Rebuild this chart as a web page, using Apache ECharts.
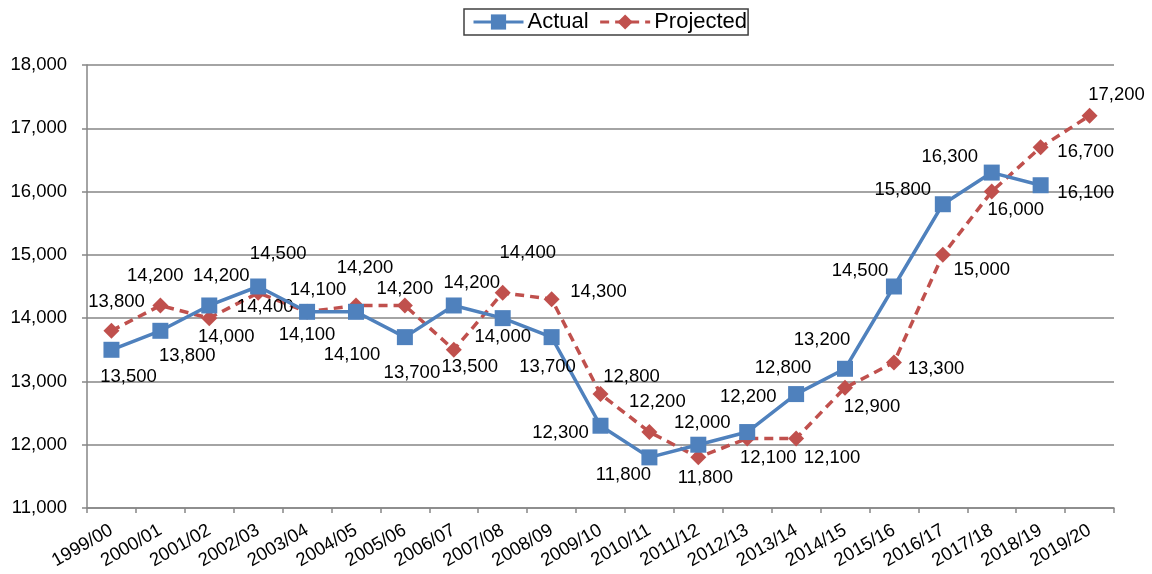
<!DOCTYPE html>
<html>
<head>
<meta charset="utf-8">
<script src="https://cdn.jsdelivr.net/npm/echarts@6/dist/echarts.min.js"></script>
<style>
  html, body { margin: 0; padding: 0; background: #ffffff; }
  #chart { width: 1152px; height: 574px; }
</style>
</head>
<body>
<div id="chart"></div>
<script>
// Financial years on the category axis
const years = ['1999/00', '2000/01', '2001/02', '2002/03', '2003/04', '2004/05', '2005/06',
  '2006/07', '2007/08', '2008/09', '2009/10', '2010/11', '2011/12', '2012/13', '2013/14',
  '2014/15', '2015/16', '2016/17', '2017/18', '2018/19', '2019/20'];

// Recorded values (no figure yet for the final year)
const actual = [13500, 13800, 14200, 14500, 14100, 14100, 13700, 14200, 14000, 13700,
  12300, 11800, 12000, 12200, 12800, 13200, 14500, 15800, 16300, 16100];

// Forecast values
const projected = [13800, 14200, 14000, 14400, 14100, 14200, 14200, 13500, 14400, 14300,
  12800, 12200, 11800, 12100, 12100, 12900, 13300, 15000, 16000, 16700, 17200];

// Value axis range and step
const yMin = 11000, yMax = 18000, yStep = 1000;

// Label nudges (px, from each point) so the value labels do not collide
const actualLabelShift = [[17, 27], [27, 25], [12, -30], [20, -33], [11, -22], [-4, 43], [7, 36],
  [18, -23], [0, 19], [-4, 30], [-40, 7], [-26, 18], [4, -22], [1, -35], [-13, -26], [-23, -29],
  [-34, -16], [-40, -14], [-42, -16], [45, 8]];
const projectedLabelShift = [[5, -29], [-5, -30], [17, 19], [7, 14], [0, 23], [9, -38], [0, -17],
  [16, 17], [25, -40], [47, -7], [31, -17], [8, -30], [7, 21], [21, 20], [36, 20], [27, 19],
  [42, 6], [39, 15], [24, 18], [45, 5], [27, -21]];

const FONT = '"Liberation Sans", Arial, sans-serif';
const fmt = v => v.toLocaleString('en-US');

function withLabels(values, shifts) {
  return values.map((v, i) => ({
    value: v,
    label: { offset: shifts[i] }
  }));
}

const chart = echarts.init(document.getElementById('chart'), null, { renderer: 'canvas' });

const valueLabel = {
  show: true, position: 'inside', fontSize: 18.5, color: '#000000', fontFamily: FONT,
  formatter: p => fmt(p.value)
};

chart.setOption({
  backgroundColor: '#ffffff',
  animation: false,
  textStyle: { fontFamily: FONT },
  legend: {
    left: 464,
    top: 9,
    padding: [2, 1, 2, 8],
    itemGap: 10,
    itemWidth: 50,
    itemHeight: 19,
    borderColor: '#404040',
    borderWidth: 1.5,
    lineStyle: { width: 3 },
    textStyle: { fontSize: 22, color: '#000000', fontFamily: FONT, padding: [0, 0, 0, -1] },
    data: ['Actual', 'Projected']
  },
  grid: { left: 87, right: 38, top: 65, bottom: 66, containLabel: false },
  xAxis: {
    type: 'category',
    data: years,
    boundaryGap: true,
    axisLine: { lineStyle: { color: '#868686', width: 1.5 } },
    axisTick: { show: true, length: 5, alignWithLabel: false, lineStyle: { color: '#868686', width: 1.5 } },
    axisLabel: { rotate: 30, fontSize: 18.5, color: '#000000', fontFamily: FONT, margin: 21, interval: 0 }
  },
  yAxis: {
    type: 'value',
    min: yMin,
    max: yMax,
    interval: yStep,
    axisLine: { show: true, lineStyle: { color: '#868686', width: 1.5 } },
    axisTick: { show: true, length: 5, lineStyle: { color: '#868686', width: 1.5 } },
    splitLine: { lineStyle: { color: '#868686', width: 1.5 } },
    axisLabel: { fontSize: 18.5, color: '#000000', fontFamily: FONT, margin: 20, formatter: fmt }
  },
  series: [
    {
      name: 'Actual',
      type: 'line',
      data: withLabels(actual, actualLabelShift),
      symbol: 'rect',
      symbolSize: 16,
      lineStyle: { color: '#4F81BD', width: 3.5 },
      itemStyle: { color: '#4F81BD' },
      label: valueLabel,
      z: 3
    },
    {
      name: 'Projected',
      type: 'line',
      data: withLabels(projected, projectedLabelShift),
      symbol: 'diamond',
      symbolSize: 16,
      lineStyle: { color: '#C0504D', width: 3.5, type: [9, 6] },
      itemStyle: { color: '#C0504D' },
      label: valueLabel,
      z: 2
    }
  ]
});
</script>
</body>
</html>
